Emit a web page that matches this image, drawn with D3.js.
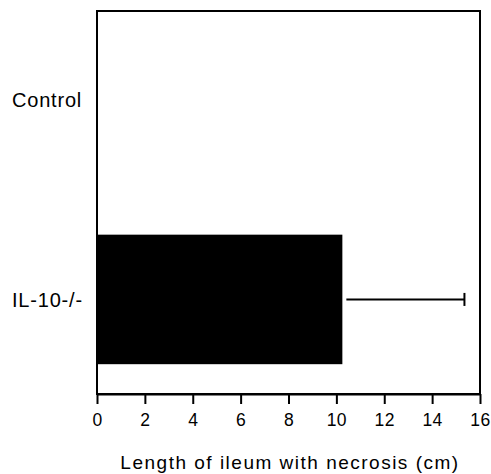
<!DOCTYPE html>
<html>
<head>
<meta charset="utf-8">
<script src="https://cdn.jsdelivr.net/npm/d3@7"></script>
<style>
  body { margin: 0; background: #fff; }
  text { font-family: "Liberation Sans", Arial, Helvetica, sans-serif; fill: #000; }
</style>
</head>
<body>
<svg id="chart"></svg>
<script>
const groups = ["Control", "IL-10-/-"]
const means = [0, 10.25]
const errors = [0, 5.1]
const xTicks = [0, 2, 4, 6, 8, 10, 12, 14, 16]
const xTitle = "Length of ileum with necrosis (cm)"

const width = 491, height = 474
const margin = { top: 11, right: 11, bottom: 80, left: 97 }

const x = d3.scaleLinear()
    .domain([0, 16])
    .range([margin.left, width - margin.right])

const y = d3.scaleBand()
    .domain(groups)
    .range([margin.top, height - margin.bottom])
    .paddingInner(0.35)
    .paddingOuter(0.136)
    .align(0.45)

const data = groups.map((g, i) => ({ group: g, mean: means[i], err: errors[i] }))

const svg = d3.select("#chart")
    .attr("width", width)
    .attr("height", height)
    .attr("viewBox", [0, 0, width, height])

// bars
svg.append("g")
    .attr("fill", "#000")
  .selectAll("rect")
  .data(data.filter(d => d.mean > 0))
  .join("rect")
    .attr("x", x(0))
    .attr("y", d => y(d.group))
    .attr("width", d => x(d.mean) - x(0))
    .attr("height", y.bandwidth())

// error bars (one-sided)
const eb = svg.append("g")
    .attr("stroke", "#000")
    .attr("stroke-width", 2)
  .selectAll("g")
  .data(data.filter(d => d.err > 0))
  .join("g")
eb.append("line")
    .attr("x1", d => x(d.mean) + 4)
    .attr("x2", d => x(d.mean + d.err))
    .attr("y1", d => y(d.group) + y.bandwidth() / 2)
    .attr("y2", d => y(d.group) + y.bandwidth() / 2)
eb.append("line")
    .attr("x1", d => x(d.mean + d.err))
    .attr("x2", d => x(d.mean + d.err))
    .attr("y1", d => y(d.group) + y.bandwidth() / 2 - 6.5)
    .attr("y2", d => y(d.group) + y.bandwidth() / 2 + 6.5)

// frame
svg.append("rect")
    .attr("x", margin.left)
    .attr("y", margin.top)
    .attr("width", width - margin.right - margin.left)
    .attr("height", height - margin.bottom - margin.top)
    .attr("fill", "none")
    .attr("stroke", "#000")
    .attr("stroke-width", 2)

// x axis
svg.append("g")
    .attr("transform", `translate(0,${height - margin.bottom})`)
    .call(d3.axisBottom(x).tickValues(xTicks).tickSize(10).tickPadding(10).tickSizeOuter(0))
    .call(g => g.select(".domain").attr("stroke-width", 2))
    .call(g => g.selectAll(".tick line").attr("stroke-width", 2))
    .call(g => g.selectAll(".tick text")
        .attr("font-size", 17.5)
        .attr("letter-spacing", 0.5)
        .attr("font-family", null))

svg.append("text")
    .attr("x", (117 + 463) / 2)
    .attr("y", 469)
    .attr("text-anchor", "middle")
    .attr("font-size", 19)
    .attr("letter-spacing", 1.5)
    .text(xTitle)

// category labels
svg.append("g")
  .selectAll("text")
  .data(groups)
  .join("text")
    .attr("x", 12)
    .attr("y", d => y(d) + y.bandwidth() / 2)
    .attr("dy", "0.36em")
    .attr("font-size", 20)
    .attr("letter-spacing", 0.8)
    .text(d => d)
</script>
</body>
</html>
